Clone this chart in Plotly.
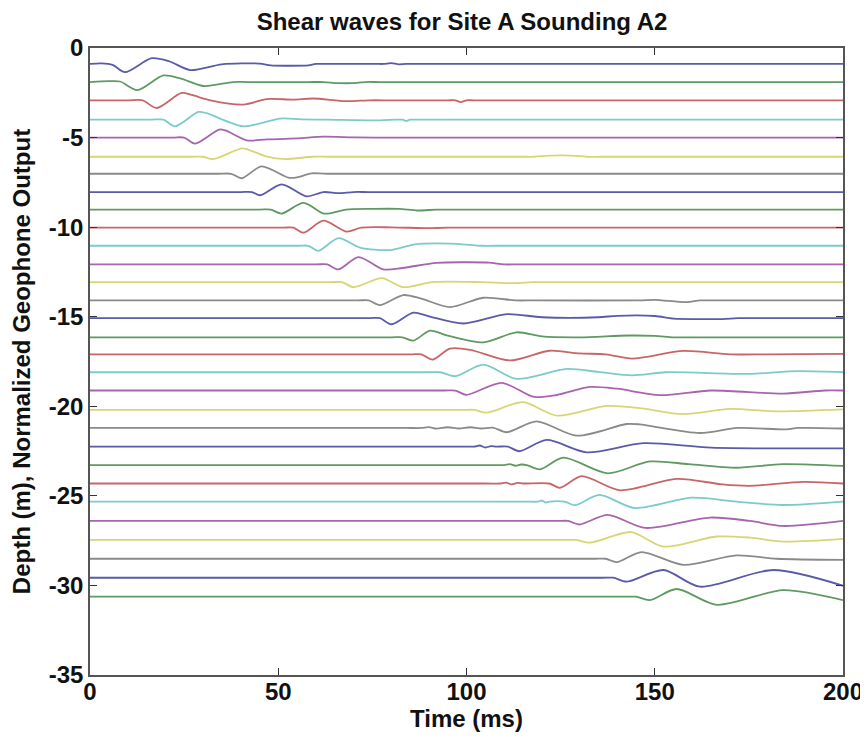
import plotly.graph_objects as go

# ---------------- data ----------------
DEPTHS = [0.89, 1.90, 2.92, 4.00, 5.00, 6.07, 7.02, 8.04, 9.02, 10.03,
          11.04, 12.08, 13.07, 14.09, 15.08, 16.15, 17.10, 18.10, 19.12, 20.20,
          21.21, 22.25, 23.28, 24.31, 25.32, 26.40, 27.46, 28.51, 29.57, 30.63]

# key points of each normalized trace: times (ms) and amplitudes (m offset from depth)
TRACE_TIMES = [
    [0, 3, 6, 9.3, 16.4, 21, 26.6, 35, 45, 48, 52, 58, 60, 64, 76, 78, 80, 82, 84, 120, 200],
    [0, 5, 8, 12.6, 19.5, 24, 30.1, 38, 42, 58, 62, 66, 71, 73, 77, 200],
    [0, 10, 14, 17.7, 24.3, 27, 32, 40.7, 47, 54, 59.3, 68, 74, 80, 95, 97, 98.5, 100, 102, 200],
    [0, 16, 19.5, 22.6, 28.8, 31, 40.7, 50.5, 56, 63, 77, 81, 83, 84, 85, 87, 200],
    [0, 22, 25, 27.9, 34.3, 36, 41.6, 47, 55, 62, 70, 76, 200],
    [0, 27, 30, 32.7, 40.3, 42, 47, 52, 59, 63, 114, 118, 122, 128, 132, 136, 200],
    [0, 34, 37.5, 40.3, 45.6, 52.7, 55, 58.8, 63, 200],
    [0, 40, 43, 45.2, 50.9, 57.5, 62, 66, 70, 74, 200],
    [0, 45, 48, 50.9, 56.7, 62, 64, 68, 75, 82, 87, 92, 96, 200],
    [0, 51, 54, 56.7, 62, 68.2, 72, 80, 90, 95, 200],
    [0, 55, 58, 60.6, 66, 71.7, 79.7, 86.3, 95.6, 104, 108, 200],
    [0, 60, 63, 66, 71.3, 77.9, 83, 92, 100, 106, 110, 114, 200],
    [0, 64, 67, 70, 77.5, 83.2, 91, 104, 112, 118, 122, 200],
    [0, 71, 74, 77, 83.2, 88, 95.6, 104.5, 113, 118, 146, 150, 158.5, 162, 166, 200],
    [0, 74, 77, 80.1, 85.9, 90, 99.2, 110.7, 120, 135, 140, 150, 155, 162, 168, 172, 176, 200],
    [0, 80, 83, 85.9, 90.3, 95, 104.5, 113.3, 120, 130, 143, 150, 155, 160, 200],
    [0, 85, 88, 91, 95.6, 101, 111.5, 122, 130, 137, 144, 157.6, 170, 180, 200],
    [0, 90, 93, 97, 104.5, 113.3, 126.6, 135, 144, 153, 175, 188, 200],
    [0, 94, 97, 100, 109.3, 118, 124, 132.8, 140, 151.4, 165, 184, 195, 200],
    [0, 99, 102, 105.4, 115, 124, 137.2, 146, 157.6, 170, 182, 200],
    [0, 84, 88, 90, 92, 95, 98, 101, 104, 107, 110.7, 118.6, 129.3, 142.5, 146, 162, 172, 185, 188, 200],
    [0, 98, 102, 103.5, 105, 106.5, 108, 111, 114, 121.3, 131.9, 147, 165, 200],
    [0, 106, 110, 111.5, 113, 114.5, 116, 119.5, 125.7, 137.5, 148.7, 159, 171.7, 184, 200],
    [0, 105, 109, 110.5, 112, 113.5, 115, 122, 124.8, 130.6, 140.8, 155.8, 168, 175, 189.5, 200],
    [0, 115, 119, 120, 121, 122, 126, 128.8, 135.3, 144.7, 159.7, 171.7, 184.1, 200],
    [0, 124, 127, 130, 137.5, 147.5, 164.7, 175.3, 184.1, 200],
    [0, 126, 129, 133, 143.7, 152.3, 166.4, 175.3, 184.1, 200],
    [0, 134, 137, 139.9, 146.5, 157.6, 171.7, 182.4, 200],
    [0, 136, 139, 142.5, 152.3, 162, 181.5, 200],
    [0, 142, 145, 148.7, 155.8, 166.5, 184.1, 200],
]
TRACE_AMPS = [
    [0, 0.03, -0.05, -0.46, 0.32, 0.15, -0.34, -0.02, 0.02, -0.08, -0.1, -0.08, 0, 0, 0, 0, 0.05, -0.02, 0, 0, 0],
    [0, 0.05, 0.03, -0.45, 0.37, 0.2, -0.22, 0, 0, 0, 0, -0.06, -0.05, 0, 0, 0],
    [0, 0, 0, -0.43, 0.41, 0.3, 0, -0.24, 0.07, 0.04, 0.1, -0.05, 0, 0, 0, 0, -0.1, 0, 0, 0],
    [0, 0, 0, -0.37, 0.43, 0.36, -0.37, 0.06, 0.02, 0, -0.04, 0, 0, -0.08, 0, 0, 0],
    [0, 0, 0, -0.34, 0.45, 0.4, -0.15, -0.1, -0.05, 0.05, 0.01, 0, 0],
    [0, 0, 0, -0.13, 0.47, 0.4, 0, -0.13, 0, 0, 0, 0, 0.06, 0.06, 0, 0, 0],
    [0, 0, 0, -0.25, 0.41, -0.22, -0.2, 0.02, 0, 0],
    [0, 0, 0, -0.18, 0.43, -0.24, 0, -0.06, 0, 0, 0],
    [0, 0, 0, -0.22, 0.37, -0.22, -0.2, 0, 0.04, 0.04, -0.05, 0, 0, 0],
    [0, 0, 0, -0.28, 0.39, -0.22, 0, 0.02, -0.03, 0, 0],
    [0, 0, 0, -0.28, 0.43, -0.1, -0.24, 0.08, 0.12, 0, 0, 0],
    [0, 0, 0, -0.28, 0.41, -0.28, -0.2, 0.09, 0.12, 0.1, 0, 0, 0],
    [0, 0, 0, -0.28, 0.22, -0.28, 0, 0, -0.05, 0, 0, 0],
    [0, 0, 0, -0.26, 0.3, 0.1, -0.37, 0.15, 0, 0, 0, 0.03, -0.1, 0, 0, 0],
    [0, 0, 0, -0.34, 0.31, 0.1, -0.3, 0.22, 0.05, 0.05, 0.13, 0.12, -0.03, -0.05, -0.05, 0, 0, 0],
    [0, 0, 0, -0.18, 0.37, 0.1, -0.28, 0.28, 0.05, 0, 0.1, 0.08, 0, 0, 0],
    [0, 0, 0, -0.3, 0.32, 0.25, -0.34, 0.2, 0.05, 0, -0.24, 0.19, 0, 0, 0.03],
    [0, 0, 0, -0.22, 0.43, -0.37, 0.19, 0.02, -0.17, 0, -0.09, 0.06, 0],
    [0, 0, 0, -0.24, 0.43, -0.36, -0.25, 0.2, 0.1, -0.26, 0, -0.17, 0, 0],
    [0, 0, 0, -0.15, 0.43, -0.32, 0.22, 0.1, -0.24, 0.05, -0.08, 0.03],
    [0, 0, 0, 0.05, -0.04, 0.04, -0.03, 0.04, -0.03, 0.02, -0.24, 0.37, -0.43, 0.22, 0.2, -0.28, 0, -0.08, 0, -0.03],
    [0, 0, 0, 0.06, -0.05, 0.03, 0, 0, -0.26, 0.37, -0.32, 0.19, -0.06, -0.1],
    [0, 0, 0, 0.05, -0.04, 0.03, 0, -0.24, 0.41, -0.46, 0.2, 0.05, -0.15, 0.05, -0.05],
    [0, 0, 0, 0.05, -0.05, 0.03, 0, 0, -0.24, 0.41, -0.38, 0.26, -0.05, -0.13, 0.09, 0],
    [0, 0, 0, 0.06, -0.05, 0, 0, -0.2, 0.37, -0.36, 0.22, 0, -0.19, 0],
    [0, 0, 0, -0.2, 0.34, -0.39, 0.19, 0, -0.28, 0],
    [0, 0, 0, -0.15, 0.44, -0.37, 0.19, 0.13, -0.09, 0.06],
    [0, 0, 0, -0.19, 0.37, -0.34, 0.19, 0, -0.06],
    [0, 0, 0, -0.22, 0.43, -0.5, 0.43, -0.45],
    [0, 0, 0, -0.19, 0.43, -0.45, 0.37, -0.19],
]

COLORS = ["#5a5aa8", "#5f9a60", "#c86666", "#7ccaca", "#a864ae", "#d6d674", "#8a8a8a"]

X_TICKS = [0, 50, 100, 150, 200]
X_TICK_TEXT = ["0", "50", "100", "150", "200"]
Y_TICKS = [0, -5, -10, -15, -20, -25, -30, -35]
Y_TICK_TEXT = ["0", "-5", "-10", "-15", "-20", "-25", "-30", "-35"]

# ---------------- figure ----------------
fig = go.Figure()
for i, (d, ts, amps) in enumerate(zip(DEPTHS, TRACE_TIMES, TRACE_AMPS)):
    fig.add_trace(go.Scatter(
        x=ts, y=[-d + a for a in amps], mode="lines",
        line=dict(color=COLORS[i % len(COLORS)], width=1.8, shape="spline", smoothing=0.8),
        showlegend=False, hoverinfo="skip"))

FONT = "Liberation Sans"
FS = 24
# the page body adds an 8 px offset, so the figure is 8 px smaller and margins are shifted
fig.update_layout(
    width=860, height=736,
    margin=dict(l=82, r=25, t=40, b=69),
    paper_bgcolor="white", plot_bgcolor="white",
    font=dict(family=FONT, size=FS, color="#111111"),
    title=dict(text="<b>Shear waves for Site A Sounding A2</b>", x=0.528, xanchor="center",
               y=0.982, yanchor="middle", font=dict(size=24, family=FONT, color="#111111")),
)
axis_common = dict(showgrid=False, zeroline=False, showline=True, linecolor="#555555", linewidth=1.5,
                   mirror="ticks", ticks="inside", ticklen=7, tickcolor="#333333", tickwidth=1.2,
                   automargin=False, tickfont=dict(family=FONT, size=FS, color="#111111"))
fig.update_xaxes(range=[0, 200], tickvals=X_TICKS, ticktext=["<b>%s</b>" % t for t in X_TICK_TEXT],
                 ticklabelstandoff=-6,
                 title=dict(text="<b>Time (ms)</b>", standoff=2, font=dict(size=FS, family=FONT)),
                 **axis_common)
fig.update_yaxes(range=[-35, 0], tickvals=Y_TICKS, ticktext=["<b>%s</b>" % t for t in Y_TICK_TEXT],
                 title=dict(text="<b>Depth (m), Normalized Geophone Output</b>", standoff=12,
                            font=dict(size=FS, family=FONT)),
                 **axis_common)

fig.write_html("out.html")
